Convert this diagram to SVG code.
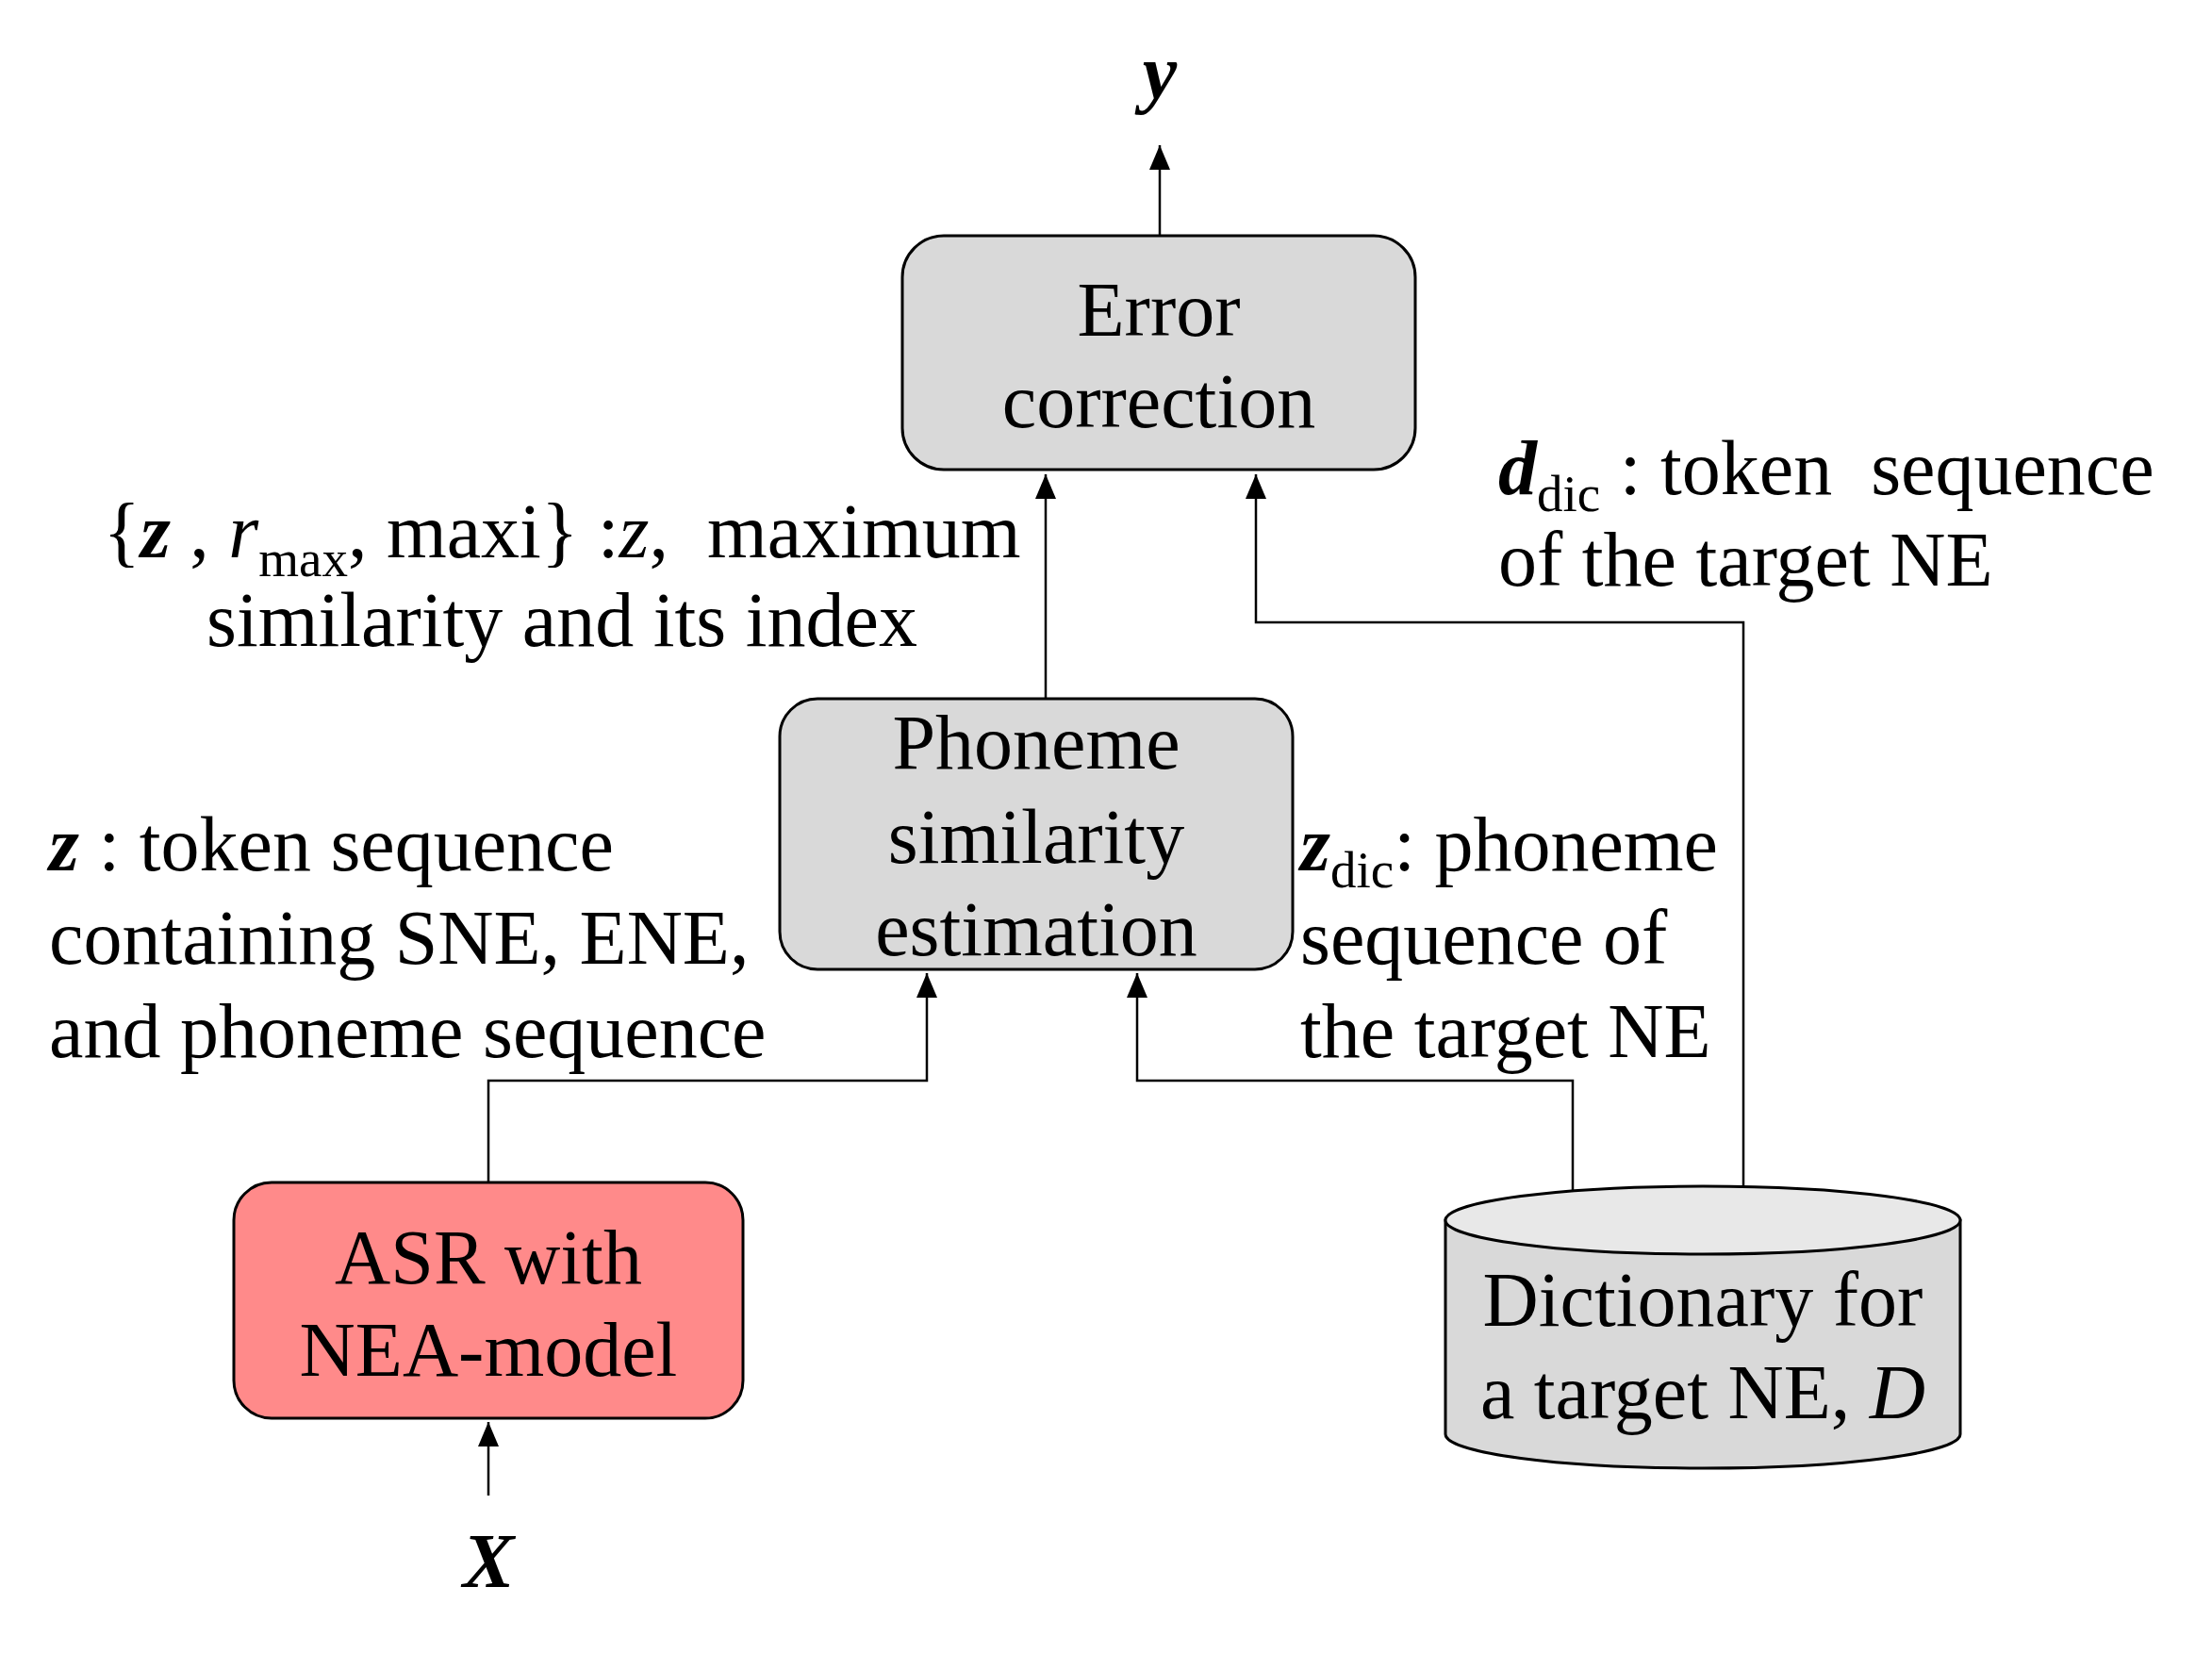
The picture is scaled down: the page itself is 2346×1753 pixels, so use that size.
<svg xmlns="http://www.w3.org/2000/svg" width="2346" height="1753" viewBox="0 0 2346 1753">
<style>
text{font-family:"Liberation Serif","Times New Roman",serif;font-size:82px;fill:#000;white-space:pre}
.c{text-anchor:middle}
.bi{font-weight:bold;font-style:italic}
.i{font-style:italic}
.sub{font-size:55px}
.box{stroke:#000;stroke-width:3}
.gray{fill:#D9D9D9}
.conn{fill:none;stroke:#000;stroke-width:2.5}
</style>
<defs>
<marker id="ah" markerUnits="userSpaceOnUse" viewBox="0 0 26 22" refX="26" refY="11" markerWidth="26" markerHeight="22" orient="auto">
<path d="M0,0 L26,11 L0,22 z" fill="#000"/>
</marker>
</defs>
<rect width="2346" height="1753" fill="#fff"/>
<g id="connectors">
<path class="conn" d="M1230,250 L1230,154" marker-end="url(#ah)"/>
<path class="conn" d="M1109,741 L1109,503" marker-end="url(#ah)"/>
<path class="conn" d="M1849,1258 L1849,660 L1332,660 L1332,503" marker-end="url(#ah)"/>
<path class="conn" d="M518,1254 L518,1146 L983,1146 L983,1032" marker-end="url(#ah)"/>
<path class="conn" d="M1668,1263 L1668,1146 L1206,1146 L1206,1032" marker-end="url(#ah)"/>
<path class="conn" d="M518,1586 L518,1508" marker-end="url(#ah)"/>
</g>
<g id="error-correction">
<rect class="box gray" x="957" y="250" width="544" height="248" rx="44"/>
<text class="c" x="1229" y="356">Error</text>
<text class="c" x="1229" y="453">correction</text>
</g>
<g id="phoneme-similarity">
<rect class="box gray" x="827" y="741" width="544" height="287" rx="40"/>
<text class="c" x="1099" y="815">Phoneme</text>
<text class="c" x="1099" y="915">similarity</text>
<text class="c" x="1099" y="1013">estimation</text>
</g>
<g id="asr">
<rect class="box" fill="#FF8A8A" x="248" y="1254" width="540" height="250" rx="40"/>
<text class="c" x="518" y="1361">ASR with</text>
<text class="c" x="518" y="1459">NEA-model</text>
</g>
<g id="dictionary">
<path class="box gray" d="M1533,1294 L1533,1521 A273,36 0 0 0 2079,1521 L2079,1294 Z"/>
<ellipse class="box" fill="#E8E8E8" cx="1806" cy="1294" rx="273" ry="36"/>
<text class="c" x="1806" y="1406">Dictionary for</text>
<text class="c" x="1806" y="1504">a target NE, <tspan class="i">D</tspan></text>
</g>
<g id="label-y">
<text class="c bi" x="1230" y="104">y</text>
</g>
<g id="label-x">
<text class="c bi" x="518" y="1683">X</text>
</g>
<g id="label-zrmax">
<text class="c" x="596" y="591">{<tspan class="bi">z</tspan> , <tspan class="i">r</tspan><tspan class="sub" dy="20">max</tspan><tspan dy="-20">, maxi} :</tspan><tspan class="i">z</tspan>,  maximum</text>
<text class="c" x="596" y="685">similarity and its index</text>
</g>
<g id="label-z">
<text x="52" y="923"><tspan class="bi">z</tspan> : token sequence</text>
<text x="52" y="1022">containing SNE, ENE,</text>
<text x="52" y="1121">and phoneme sequence</text>
</g>
<g id="label-zdic">
<text x="1379" y="923"><tspan class="bi">z</tspan><tspan class="sub" dy="18">dic</tspan><tspan dy="-18">: phoneme</tspan></text>
<text x="1379" y="1022">sequence of</text>
<text x="1379" y="1121">the target NE</text>
</g>
<g id="label-ddic">
<text x="1589" y="524"><tspan class="bi">d</tspan><tspan class="sub" dy="18">dic</tspan><tspan dy="-18"> : token  sequence</tspan></text>
<text x="1589" y="621">of the target NE</text>
</g>
</svg>
